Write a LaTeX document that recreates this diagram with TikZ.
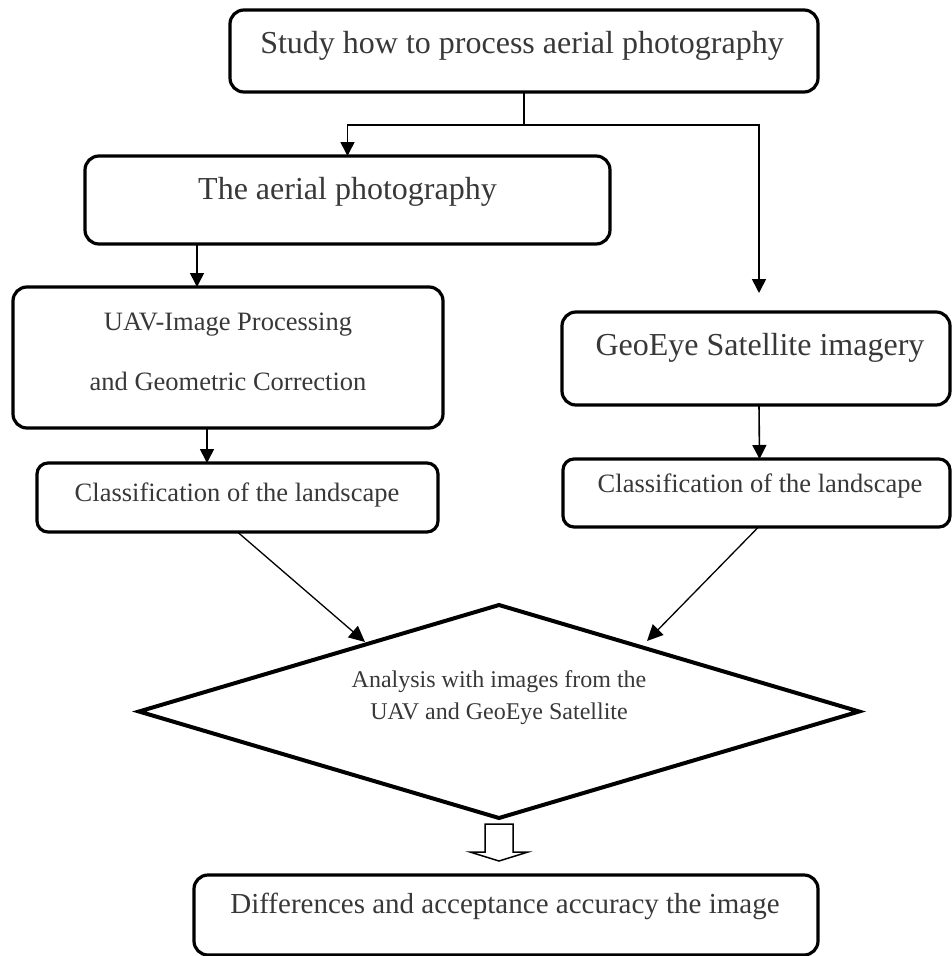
\documentclass[tikz,border=0pt]{standalone}
\usepackage{fontspec}
\setmainfont{Liberation Serif}
\usetikzlibrary{arrows.meta,calc,shapes.geometric}
\definecolor{txt}{rgb}{0.22,0.22,0.22}
\begin{document}
\begin{tikzpicture}[x=1pt,y=-1pt,
  box/.style={draw=black,line width=3.2pt,rounded corners=14pt,inner sep=0pt,outer sep=0pt},
  sbox/.style={box,rounded corners=11pt},
  lbl/.style={text=txt,anchor=base,inner sep=0pt},
  big/.style={font=\fontsize{32pt}{38pt}\selectfont},
  mid/.style={font=\fontsize{26.5pt}{32pt}\selectfont},
  sml/.style={font=\fontsize{24pt}{30pt}\selectfont},
  conn/.style={draw=black,line width=1.6pt,-{Triangle[length=14pt,width=14pt]}},
  dconn/.style={draw=black,line width=1.3pt,-{Triangle[length=16pt,width=15pt]}}]
\useasboundingbox (0,0) rectangle (952,956);

% boxes
\node[box,minimum width=588pt,minimum height=82pt] (top) at (524,51) {};
\node[box,minimum width=525pt,minimum height=88pt] (aerial) at (347.5,200) {};
\node[box,minimum width=430pt,minimum height=141pt] (uav) at (228,357.5) {};
\node[sbox,minimum width=401pt,minimum height=69pt] (lclass) at (237.5,497.5) {};
\node[box,minimum width=388pt,minimum height=93pt] (geo) at (756,358.5) {};
\node[sbox,minimum width=387pt,minimum height=68pt] (rclass) at (756.5,493) {};
\node[draw=black,line width=4pt,diamond,minimum width=720pt,minimum height=213pt,inner sep=0pt,outer sep=0pt] (dia) at (499,711.5) {};
\node[box,minimum width=624pt,minimum height=80pt] (bottom) at (506,915) {};

% texts
\node[lbl,big] (ttop) at (522,53) {Study how to process aerial photography};
\node[lbl,big] (taerial) at (347.5,199) {The aerial photography};
\node[lbl,mid] (tuav1) at (228,330) {UAV-Image Processing};
\node[lbl,mid] (tuav2) at (228,390) {and Geometric Correction};
\node[lbl,mid] (tlclass) at (237,501) {Classification of the landscape};
\node[lbl,big] (tgeo) at (760,355) {GeoEye Satellite imagery};
\node[lbl,mid] (trclass) at (760,492) {Classification of the landscape};
\node[lbl,sml] (tdia1) at (499,687) {Analysis with images from the};
\node[lbl,sml] (tdia2) at (499,719) {UAV and GeoEye Satellite};
\node[lbl,font=\fontsize{29pt}{35pt}\selectfont] (tbottom) at (505,913) {Differences and acceptance accuracy the image};

% connectors
\coordinate (split) at (top.south |- 0,125);
\coordinate (leftx) at (347,0);
\coordinate (geoin) at (759,293);
\draw[line width=1.6pt] (top.south) -- (split);
\draw[conn] (split) -| (aerial.north);
\draw[conn] (split) -| (geoin);
\coordinate (ax) at (197,0);
\draw[conn] (aerial.south -| ax) -- (uav.north -| ax);
\coordinate (ux) at (207,0);
\draw[conn] (uav.south -| ux) -- (lclass.north -| ux);
\draw[conn] ([xshift=3pt]geo.south) -- ([xshift=3pt]rclass.north);
\coordinate (dl) at (365,642);
\coordinate (dr) at (647,641);
\draw[dconn] (lclass.south) -- (dl);
\draw[dconn] ([xshift=2pt]rclass.south) -- (dr);

% hollow block arrow
\coordinate (h) at (dia.south);
\draw[line width=1.5pt,fill=white,line join=miter]
  ($(h)+(-14,6)$) -- ($(h)+(-14,34)$) -- ($(h)+(-29,34)$) -- ($(h)+(0,43)$)
  -- ($(h)+(29,34)$) -- ($(h)+(14,34)$) -- ($(h)+(14,6)$) -- cycle;
\end{tikzpicture}
\end{document}
